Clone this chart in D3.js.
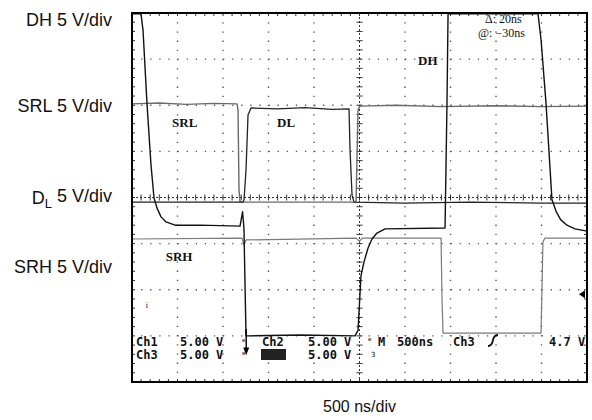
<!DOCTYPE html>
<html>
<head>
<meta charset="utf-8">
<script src="https://cdn.jsdelivr.net/npm/d3@7/dist/d3.min.js"></script>
<style>
  html, body { margin: 0; padding: 0; background: #fff; }
  svg { display: block; }
</style>
</head>
<body>
<svg id="chart" width="592" height="420"></svg>
<script>
// ---- Data (time in ns relative to trigger, amplitude in screen divisions from centre) ----
const channelLabels = ["DH 5 V/div", "SRL 5 V/div", "DL 5 V/div", "SRH 5 V/div"];
const channelLabelDiv = [3.85, 2.0, 0.0, -1.5];
const timeLabel = "500 ns/div";

const dhT = [-2500, -2401, -2379, -2335, -2291, -2258, -2225, -2181, -2126, -2027, -1753, -1313, -1285, -1270, -1247, -1203, -654, -49, -16, 16, 49, 93, 137, 192, 280, 940, 962, 973, 1962, 1995, 2050, 2115, 2160, 2210, 2280, 2368, 2500];
const dhV = [3.98, 3.98, 3.63, 2.03, 0.70, -0.01, -0.23, -0.42, -0.53, -0.60, -0.60, -0.62, -0.31, -0.66, -3.0, -3.0, -2.98, -3.0, -2.88, -1.70, -1.40, -1.10, -0.90, -0.77, -0.68, -0.66, 2.12, 3.98, 3.98, 3.42, 2.03, -0.05, -0.30, -0.48, -0.60, -0.68, -0.73];

const srlT = [-2500, -2200, -1900, -1600, -1346, -1335, -1324, -1313, -38, -16, 5, 400, 900, 1500, 2000, 2500];
const srlV = [2.03, 2.05, 2.02, 2.04, 2.03, 1.90, 0.16, -0.10, -0.10, 1.90, 1.98, 2.00, 1.97, 1.99, 1.97, 1.98];

const dlT = [-2500, -1280, -1269, -1247, -1225, -1192, -900, -600, -300, -115, -104, -82, -60, 500, 1200, 2000, 2500];
const dlV = [-0.10, -0.10, -0.05, 0.60, 1.79, 1.94, 1.92, 1.95, 1.91, 1.92, 1.03, 0.05, -0.10, -0.12, -0.10, -0.12, -0.12];

const srhT = [-2500, -1291, -1269, -1247, -38, 0, 30, 896, 907, 918, 1995, 2005, 2016, 2038, 2500];
const srhV = [-0.90, -0.88, -1.03, -0.92, -0.88, -0.95, -0.88, -0.88, -2.22, -2.94, -2.94, -2.0, -0.96, -0.88, -0.88];

const traceNames = ["SRL", "DL", "DH", "SRH"];
const traceNameT = [-2060, -906, 643, -2130];
const traceNameV = [1.62, 1.62, 2.98, -1.28];

const cursorText = ["\u0394: 20ns", "@: \u221230ns"];
const readoutRow1 = ["Ch1", "5.00 V", "Ch2", "5.00 V", "M", "500ns", "Ch3", "4.7 V"];
const readoutRow2 = ["Ch3", "5.00 V", "Ch4", "5.00 V"];

// ---- Layout ----
const svg = d3.select("#chart");
const L = 132, R = 587, T = 13, B = 382;
const x = d3.scaleLinear().domain([-2500, 2500]).range([L, R]);
const y = d3.scaleLinear().domain([-4, 4]).range([B, T]);

// graticule
const g = svg.append("g");
const xMajor = d3.range(-2000, 2001, 500).filter(d => d !== 0);
const yMajor = d3.range(-3, 4, 1).filter(d => d !== 0);
g.selectAll(".vg").data(xMajor).join("line")
  .attr("x1", d => x(d)).attr("x2", d => x(d)).attr("y1", T).attr("y2", B)
  .attr("stroke", "#555").attr("stroke-width", 1.4).attr("stroke-dasharray", "1.3,7.9");
g.selectAll(".hg").data(yMajor).join("line")
  .attr("y1", d => y(d)).attr("y2", d => y(d)).attr("x1", L).attr("x2", R)
  .attr("stroke", "#555").attr("stroke-width", 1.4).attr("stroke-dasharray", "1.3,7.8");
// centre cross with minor ticks
g.append("line").attr("x1", x(0)).attr("x2", x(0)).attr("y1", T).attr("y2", B)
  .attr("stroke", "#333").attr("stroke-width", 1).attr("stroke-dasharray", "2,2");
g.append("line").attr("y1", y(0)).attr("y2", y(0)).attr("x1", L).attr("x2", R)
  .attr("stroke", "#333").attr("stroke-width", 1).attr("stroke-dasharray", "2,2");
const xMinor = d3.range(-2500, 2501, 100);
const yMinor = d3.range(-4, 4.001, 0.2);
g.selectAll(".xt").data(xMinor).join("line")
  .attr("x1", d => x(d)).attr("x2", d => x(d)).attr("y1", y(0) - 3).attr("y2", y(0) + 3)
  .attr("stroke", "#333").attr("stroke-width", 1);
g.selectAll(".yt").data(yMinor).join("line")
  .attr("y1", d => y(d)).attr("y2", d => y(d)).attr("x1", x(0) - 3).attr("x2", x(0) + 3)
  .attr("stroke", "#333").attr("stroke-width", 1);
// edge ticks
g.selectAll(".et1").data(xMinor).join("line")
  .attr("x1", d => x(d)).attr("x2", d => x(d)).attr("y1", T).attr("y2", T + 3)
  .attr("stroke", "#333");
g.selectAll(".et2").data(xMinor).join("line")
  .attr("x1", d => x(d)).attr("x2", d => x(d)).attr("y1", B - 3).attr("y2", B)
  .attr("stroke", "#333");
g.selectAll(".et3").data(yMinor).join("line")
  .attr("y1", d => y(d)).attr("y2", d => y(d)).attr("x1", L).attr("x2", L + 3)
  .attr("stroke", "#333");
g.selectAll(".et4").data(yMinor).join("line")
  .attr("y1", d => y(d)).attr("y2", d => y(d)).attr("x1", R - 3).attr("x2", R)
  .attr("stroke", "#333");

// traces
const line = d3.line().x(d => x(d[0])).y(d => y(d[1]));
function trace(T_, V_, color, w) {
  svg.append("path").datum(T_.map((t, i) => [t, V_[i]]))
    .attr("d", line).attr("fill", "none").attr("stroke", color)
    .attr("stroke-width", w).attr("stroke-linejoin", "round");
}
trace(srhT, srhV, "#7a7a7a", 1.2);
trace(srlT, srlV, "#6a6a6a", 1.4);
trace(dlT, dlV, "#222", 1.3);
trace(dhT, dhV, "#111", 1.4);

// frame
svg.append("rect").attr("x", L).attr("y", T).attr("width", R - L).attr("height", B - T)
  .attr("fill", "none").attr("stroke", "#000").attr("stroke-width", 2);

// ground marker arrow (Ch1) and right marker
svg.append("line").attr("x1", x(-1245)).attr("x2", x(-1245)).attr("y1", y(-2.85)).attr("y2", y(-3.3))
  .attr("stroke", "#000").attr("stroke-width", 1.4);
svg.append("path").attr("d", `M${x(-1245) - 3},${y(-3.25)} L${x(-1245) + 3},${y(-3.25)} L${x(-1245)},${y(-3.42)} Z`)
  .attr("fill", "#000");
svg.append("path").attr("d", `M${R - 2},${y(-2.1) - 4} L${R - 8},${y(-2.1)} L${R - 2},${y(-2.1) + 4} Z`).attr("fill", "#000");
svg.append("text").attr("x", x(-2350)).attr("y", y(-2.4)).attr("font-family", "Liberation Serif")
  .attr("font-size", 8).text("i");

// channel labels (left)
const labG = svg.append("g").attr("font-family", "Liberation Sans, Arial, sans-serif")
  .attr("font-size", 18).attr("fill", "#111").attr("text-anchor", "end");
channelLabels.forEach((s, i) => {
  const t = labG.append("text").attr("x", 112).attr("y", y(channelLabelDiv[i])).attr("dy", "0.35em");
  if (i === 2) {
    t.append("tspan").text("D");
    t.append("tspan").attr("font-size", 13).attr("dy", "0.3em").text("L");
    t.append("tspan").attr("dy", "-0.3em").text(" 5 V/div");
  } else t.text(s);
});
svg.append("text").attr("x", x(0)).attr("y", 412).attr("text-anchor", "middle")
  .attr("font-family", "Liberation Sans, Arial, sans-serif").attr("font-size", 16).attr("fill", "#111")
  .text(timeLabel);

// trace names inside
svg.append("g").selectAll("text").data(traceNames).join("text")
  .attr("x", (d, i) => x(traceNameT[i])).attr("y", (d, i) => y(traceNameV[i]))
  .attr("dy", "0.35em")
  .attr("font-family", "Liberation Serif, serif").attr("font-weight", "bold").attr("font-size", 13)
  .attr("fill", "#111").text(d => d);

// cursor readout
svg.append("text").attr("x", 485).attr("y", 23).attr("font-family", "Liberation Serif, serif")
  .attr("font-size", 12).attr("fill", "#111").text(cursorText[0]);
svg.append("text").attr("x", 478).attr("y", 37).attr("font-family", "Liberation Serif, serif")
  .attr("font-size", 12).attr("fill", "#111").text(cursorText[1]);

// scope readout
const ro = svg.append("g").attr("font-family", "DejaVu Sans Mono, monospace")
  .attr("font-size", 12).attr("font-weight", "bold").attr("fill", "#111");
const r1x = [136, 180, 262, 308, 378, 397, 453, 549];
readoutRow1.forEach((s, i) => ro.append("text").attr("x", r1x[i]).attr("y", 346).text(s));
const r2x = [136, 180, 262, 308];
svg.append("rect").attr("x", 261).attr("y", 349).attr("width", 25).attr("height", 11).attr("fill", "#222");
readoutRow2.forEach((s, i) => ro.append("text").attr("x", r2x[i]).attr("y", 359)
  .attr("fill", i === 2 ? "#ddd" : "#111").text(s));
// small glyphs
svg.append("text").attr("x", 242).attr("y", 345).attr("font-size", 8).attr("font-family", "DejaVu Sans").text("\u1D2E");
svg.append("text").attr("x", 242).attr("y", 358).attr("font-size", 8).attr("font-family", "DejaVu Sans").text("\u1D2E");
svg.append("text").attr("x", 368).attr("y", 344).attr("font-size", 8).attr("font-family", "DejaVu Sans").text("\u1D2E");
svg.append("text").attr("x", 371).attr("y", 357).attr("font-size", 7).attr("font-family", "DejaVu Sans").text("3");
svg.append("path").attr("d", "M488,346 Q492,346 493,340 Q494,335 498,335")
  .attr("fill", "none").attr("stroke", "#111").attr("stroke-width", 1.8);
</script>
</body>
</html>
